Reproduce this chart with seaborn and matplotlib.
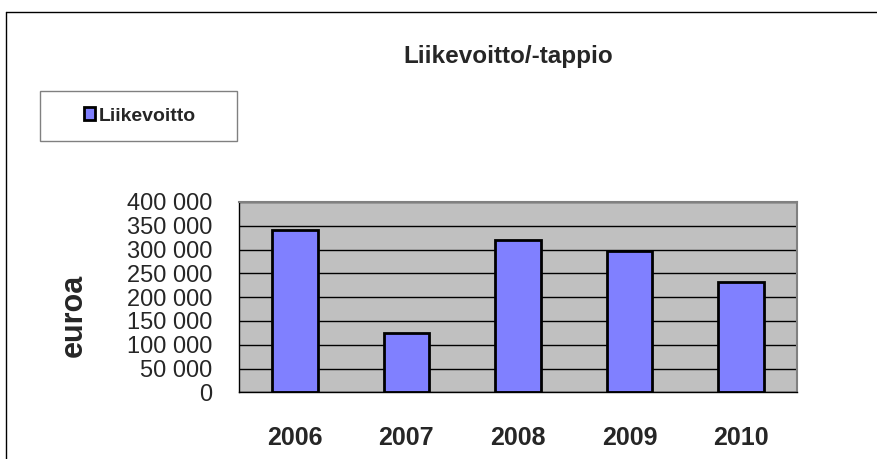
import matplotlib
matplotlib.use('Agg')
import matplotlib.pyplot as plt
import seaborn as sns
from matplotlib.ticker import FuncFormatter, MultipleLocator, FixedLocator
from matplotlib.patches import Rectangle
from matplotlib.lines import Line2D

years = ['2006', '2007', '2008', '2009', '2010']
liikevoitto = [342000, 125000, 320000, 296000, 231000]

sns.set_style('white')
plt.rcParams['font.family'] = ['Liberation Sans', 'DejaVu Sans']

fig = plt.figure(figsize=(8.77, 4.59), dpi=100)
ax = fig.add_axes([239 / 877, 1 - 392.3 / 459, 558 / 877, 190.3 / 459])
ax.set_facecolor('#C0C0C0')

sns.barplot(x=years, y=liikevoitto, color='#8080FF', saturation=1,
            edgecolor='black', linewidth=2, width=0.41, label='Liikevoitto', ax=ax)

ax.set_ylim(0, 400000)
ax.set_xlim(-0.5, 4.5)
ax.yaxis.set_major_locator(MultipleLocator(50000))
ax.yaxis.set_major_formatter(FuncFormatter(lambda v, p: f"{v:,.0f}".replace(",", " ")))
ax.grid(axis='y', color='black', linewidth=1)
ax.set_axisbelow(True)

for s in ['top', 'right']:
    ax.spines[s].set_color('#808080')
    ax.spines[s].set_linewidth(1.5)
for s in ['left', 'bottom']:
    ax.spines[s].set_color('black')
    ax.spines[s].set_linewidth(1)

ax.tick_params(axis='y', direction='out', length=5, width=1, color='black',
               pad=14, labelsize=17)
ax.xaxis.set_minor_locator(FixedLocator([-0.5, 0.5, 1.5, 2.5, 3.5, 4.5]))
ax.tick_params(axis='x', which='minor', direction='out', length=6, width=1, color='black')
ax.tick_params(axis='x', which='major', length=0, pad=24, labelsize=18)
for lbl in ax.get_xticklabels():
    lbl.set_fontweight('bold')

ax.set_xlabel('')
ax.set_ylabel('')
fig.text(74 / 877, 1 - 315 / 459, 'euroa', rotation=90, fontsize=22, fontweight='bold',
         ha='center', va='center')

fig.text(508 / 877, 1 - 56 / 459, 'Liikevoitto/-tappio', fontsize=17.5, fontweight='bold',
         ha='center', va='center')

# legend box
fig.add_artist(Rectangle((40 / 877, 1 - 141 / 459), 197 / 877, 50 / 459,
                         transform=fig.transFigure, facecolor='white',
                         edgecolor='#808080', linewidth=1))
handles, labels = ax.get_legend_handles_labels()
if ax.get_legend() is not None:
    ax.get_legend().remove()
leg = fig.legend(handles, labels, loc='center', bbox_to_anchor=(140 / 877, 1 - 116 / 459),
                 frameon=False, handlelength=0.6, handleheight=0.6, handletextpad=0.2,
                 prop={'size': 14, 'weight': 'bold'})

# chart area frame
fig.add_artist(Line2D([6 / 877, 1], [1 - 12 / 459, 1 - 12 / 459], transform=fig.transFigure,
                      color='black', linewidth=1))
fig.add_artist(Line2D([6 / 877, 6 / 877], [0, 1 - 12 / 459], transform=fig.transFigure,
                      color='black', linewidth=1))

fig.savefig('out.png', dpi=100, facecolor='white')
plt.close(fig)
